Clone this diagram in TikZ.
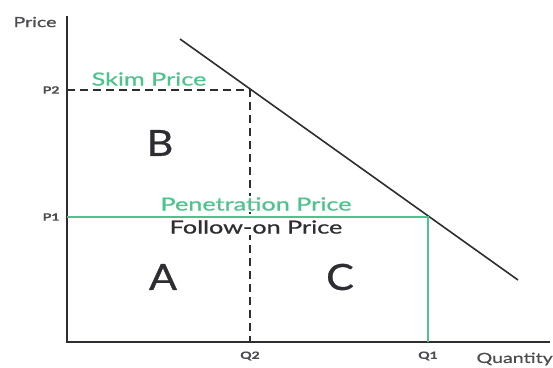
\documentclass[tikz,border=0pt]{standalone}
\usepackage{fontspec}
\setmainfont[FakeStretch=1.4,FakeBold=0.8]{Lato}
\newfontfamily\areafont[FakeStretch=1.15,FakeBold=0.8]{Lato}
\usetikzlibrary{positioning}
\definecolor{pricegreen}{RGB}{76,196,140}
\definecolor{axisgray}{RGB}{45,45,50}

\begin{document}
\begin{tikzpicture}[x=1pt,y=-1pt,
    axis/.style={draw=axisgray,line width=2.2pt},
    tick/.style={font=\fontsize{10}{11}\selectfont\bfseries,text=axisgray!85},
    green label/.style={font=\fontsize{18}{20}\selectfont,text=pricegreen,inner sep=1pt},
    area label/.style={font=\areafont\fontsize{36}{38}\selectfont,text=axisgray}]
    \useasboundingbox (0,0) rectangle (553,367);
    % Axes
    \coordinate (O) at (67,342);
    \coordinate (ytop) at (67,16);
    \coordinate (xend) at (550,342);
    \draw[axis] (ytop) -- (O) -- (xend);
    % Demand curve
    \coordinate (D1) at (180,39);
    \coordinate (D2) at (518,280);
    \draw[axisgray,line width=1.6pt] (D1) -- (D2);
    % Price / quantity points
    \coordinate (P2) at (67,90);
    \coordinate (P1) at (67,217);
    \coordinate (Q2) at (250,342);
    \coordinate (Q1) at (428,342);
    \coordinate (E2) at (250,90);
    \coordinate (E1) at (428,217);
    \draw[axisgray,dash pattern=on 8pt off 5pt,line width=1.4pt] (P2) -- (E2) -- (Q2);
    % Price names (white behind, so the dashed line breaks)
    \node[green label] (skim) at (149,79) {Skim Price};
    \node[green label,fill=white] (pen) at (256,204) {Penetration Price};
    \node[font=\fontsize{18}{20}\selectfont,text=axisgray,fill=white,inner sep=1pt] (follow) at (256,227) {Follow-on Price};
    \draw[pricegreen,line width=2pt] (P1) -- (E1) -- (Q1);
    % Axis labels
    \node[font=\fontsize{14}{16}\selectfont,text=axisgray!85,anchor=east] (price) at (60,22) {Price};
    \node[font=\fontsize{14}{16}\selectfont,text=axisgray!85,anchor=west] (qty) at (473,359) {Quantity};
    \node[tick,left=4pt of P2] (p2) {P2};
    \node[tick,left=4pt of P1] (p1) {P1};
    \node[tick,below=6pt of Q2] (q2) {Q2};
    \node[tick,below=6pt of Q1] (q1) {Q1};
    % Areas
    \foreach \n/\x/\y in {B/160/143, A/163/277, C/340/277}
      \node[area label] (area\n) at (\x,\y) {\n};
\end{tikzpicture}
\end{document}
